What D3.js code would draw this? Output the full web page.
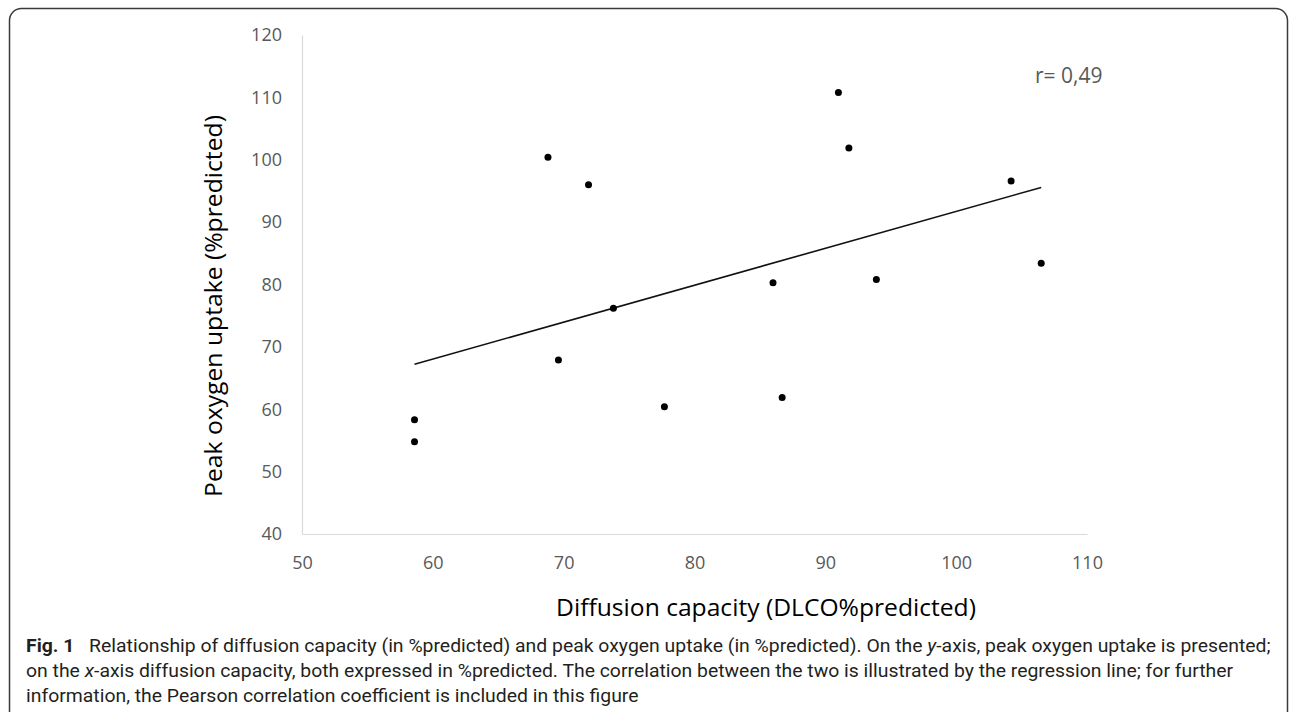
<!DOCTYPE html>
<html>
<head>
<meta charset="utf-8">
<script src="https://cdn.jsdelivr.net/npm/d3@7"></script>
<style>
  body { margin: 0; background: #fff; }
  svg { display: block; }
</style>
</head>
<body>
<svg></svg>
<script>
"use strict";

// values: DLCO %predicted (x) vs peak VO2 %predicted (y)
const dlco = [58.6, 58.6, 68.8, 69.6, 71.9, 73.8, 77.7, 86.0, 86.7, 91.0, 91.8, 93.9, 104.2, 106.5];
const peakVO2 = [58.3, 54.8, 100.4, 67.9, 96.0, 76.2, 60.4, 80.3, 61.9, 110.8, 101.9, 80.8, 96.6, 83.4];
const xTicks = [50, 60, 70, 80, 90, 100, 110];
const yTicks = [40, 50, 60, 70, 80, 90, 100, 110, 120];
const rLabel = "r= 0,49";
const xTitle = "Diffusion capacity (DLCO%predicted)";
const yTitle = "Peak oxygen uptake (%predicted)";
const figLabel = "Fig. 1";
// _x_ marks italic
const captionLines = [
  "Relationship of diffusion capacity (in %predicted) and peak oxygen uptake (in %predicted). On the _y_-axis, peak oxygen uptake is presented;",
  "on the _x_-axis diffusion capacity, both expressed in %predicted. The correlation between the two is illustrated by the regression line; for further",
  "information, the Pearson correlation coefficient is included in this figure",
];

const width = 1292;
const height = 712;

const svg = d3.select("svg").attr("width", width).attr("height", height);

const xScale = d3.scaleLinear().domain([50, 110]).range([302, 1087]);
const yScale = d3.scaleLinear().domain([40, 120]).range([534, 35]);

const points = dlco.map((d, i) => ({ x: d, y: peakVO2[i] }));

// frame around the figure (bottom runs off the page)
svg.append("rect")
  .attr("x", 9.5).attr("y", 8.5)
  .attr("width", 1278).attr("height", 800)
  .attr("rx", 12)
  .attr("fill", "none")
  .attr("stroke", "#3a3a3a")
  .attr("stroke-width", 1.5);

const drawAxes = () => {
  const xAxis = d3.axisBottom(xScale).tickValues(xTicks).tickSize(0).tickPadding(22);
  const yAxis = d3.axisLeft(yScale).tickValues(yTicks).tickSize(0).tickPadding(20);

  const gx = svg.append("g")
    .attr("transform", `translate(0,${yScale(40)})`)
    .call(xAxis);
  const gy = svg.append("g")
    .attr("transform", `translate(${xScale(50)},0)`)
    .call(yAxis);

  [gx, gy].forEach((g) => {
    g.select(".domain").attr("stroke", "#d9d9d9").attr("stroke-width", 1.2);
    g.selectAll("text")
      .attr("font-family", "'Open Sans', sans-serif")
      .attr("font-size", 18)
      .attr("fill", "#595959");
  });
};

const drawFit = () => {
  const mx = d3.mean(dlco);
  const my = d3.mean(peakVO2);
  const sxy = d3.sum(points, (p) => (p.x - mx) * (p.y - my));
  const sxx = d3.sum(points, (p) => (p.x - mx) ** 2);
  const slope = sxy / sxx;
  const x0 = d3.min(dlco);
  const x1 = d3.max(dlco);
  const fit = [x0, x1].map((x) => ({ x, y: my + slope * (x - mx) }));

  svg.append("path")
    .datum(fit)
    .attr("d", d3.line().x((d) => xScale(d.x)).y((d) => yScale(d.y)))
    .attr("fill", "none")
    .attr("stroke", "#111")
    .attr("stroke-width", 1.6);
};

const drawPoints = () => {
  svg.selectAll("circle")
    .data(points)
    .enter()
    .append("circle")
    .attr("cx", (d) => xScale(d.x))
    .attr("cy", (d) => yScale(d.y))
    .attr("r", 3.5)
    .attr("fill", "#000");
};

// squeeze a text to a target width (the original is set in a narrow font)
const fitWidth = (g, text, target) => {
  const len = text.node().getComputedTextLength();
  return target / len;
};

const drawLabels = () => {
  svg.append("text")
    .attr("x", 1035).attr("y", 83)
    .attr("font-family", "'Open Sans', sans-serif")
    .attr("font-size", 21)
    .attr("fill", "#595959")
    .text(rLabel);

  const gxt = svg.append("g");
  const xt = gxt.append("text")
    .attr("text-anchor", "middle")
    .attr("font-family", "'Open Sans', sans-serif")
    .attr("font-size", 24)
    .attr("fill", "#000")
    .text(xTitle);
  gxt.attr("transform", `translate(766,616) scale(${fitWidth(gxt, xt, 420)},1)`);

  const gyt = svg.append("g");
  const yt = gyt.append("text")
    .attr("text-anchor", "middle")
    .attr("font-family", "'Open Sans', sans-serif")
    .attr("font-size", 24)
    .attr("fill", "#000")
    .text(yTitle);
  gyt.attr("transform", `translate(222,306) rotate(-90) scale(${fitWidth(gyt, yt, 382)},1)`);
};

const drawCaption = () => {
  const cap = svg.append("g")
    .attr("font-family", "Roboto, sans-serif")
    .attr("font-size", 18.5)
    .attr("fill", "#231f20");

  captionLines.forEach((line, i) => {
    const t = cap.append("text").attr("x", 0).attr("y", 652 + i * 25);
    if (i === 0) {
      t.append("tspan").attr("font-weight", "bold").text(figLabel);
      t.append("tspan").text("\u2002 ");
    }
    line.split("_").forEach((part, j) => {
      t.append("tspan").attr("font-style", j % 2 ? "italic" : null).text(part);
    });
  });

  const first = cap.select("text");
  cap.attr("transform", `translate(26,0) scale(${fitWidth(cap, first, 1246)},1)`);
};

drawAxes();
drawFit();
drawPoints();
drawLabels();
drawCaption();
</script>
</body>
</html>
